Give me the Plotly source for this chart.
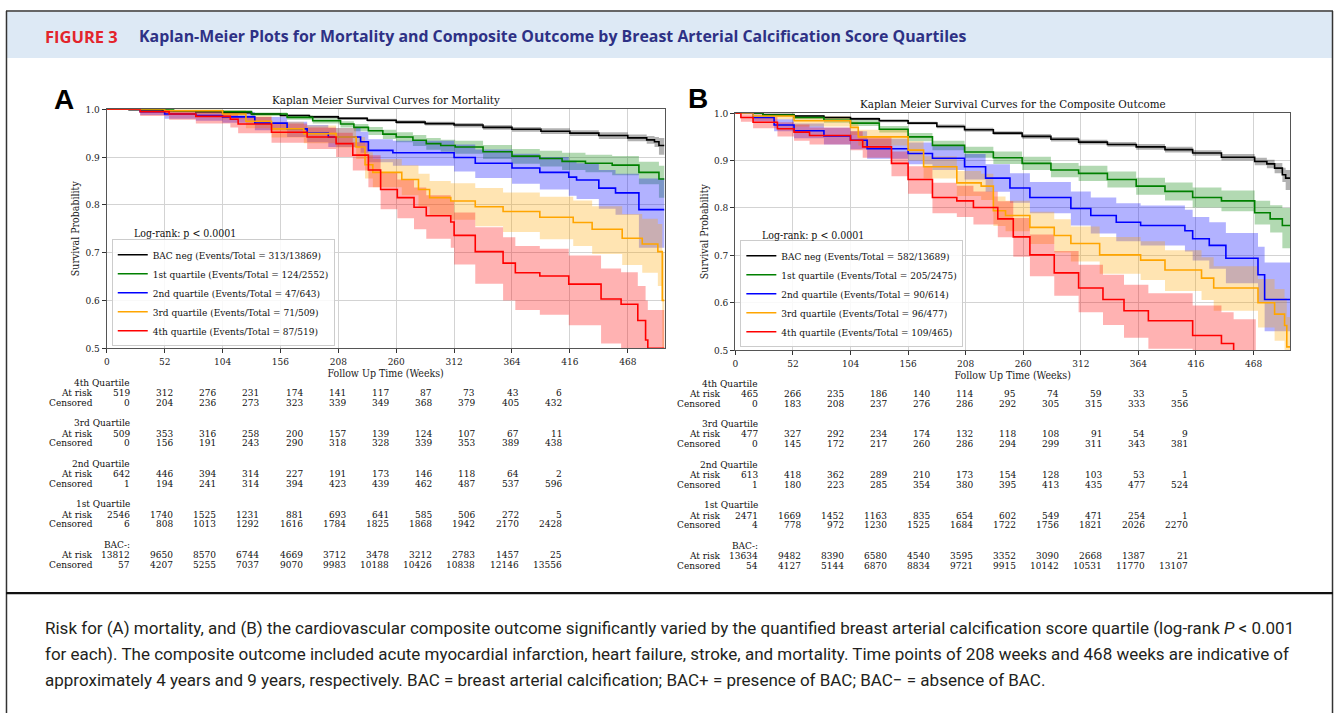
import plotly.graph_objects as go

W, H = 1336, 719

# ---------------- Panel A: mortality (weeks, survival, CI low, CI high) ----------------
tA_neg = [0, 20, 50, 80, 104, 130, 156, 182, 208, 234, 260, 286, 312, 338, 364, 390, 416, 442, 468, 485, 492, 496, 501]
sA_neg = [1.0, 0.999, 0.997, 0.995, 0.993, 0.990, 0.987, 0.984, 0.981, 0.977, 0.973, 0.970, 0.967, 0.962, 0.958, 0.954, 0.950, 0.945, 0.940, 0.936, 0.932, 0.924, 0.924]
lA_neg = [1.0, 0.998, 0.996, 0.994, 0.991, 0.988, 0.985, 0.981, 0.978, 0.974, 0.969, 0.966, 0.962, 0.957, 0.953, 0.948, 0.944, 0.938, 0.933, 0.928, 0.921, 0.905, 0.905]
hA_neg = [1.0, 1.0, 0.998, 0.996, 0.995, 0.992, 0.989, 0.987, 0.984, 0.980, 0.977, 0.974, 0.971, 0.967, 0.963, 0.960, 0.956, 0.952, 0.947, 0.944, 0.942, 0.940, 0.940]

tA_q1 = [0, 30, 60, 104, 130, 162, 185, 210, 222, 235, 248, 260, 275, 287, 300, 313, 338, 364, 389, 409, 430, 454, 478, 496, 501]
sA_q1 = [1.0, 0.999, 0.997, 0.995, 0.990, 0.983, 0.976, 0.969, 0.962, 0.955, 0.948, 0.942, 0.935, 0.928, 0.924, 0.921, 0.911, 0.902, 0.897, 0.891, 0.887, 0.883, 0.868, 0.854, 0.854]
lA_q1 = [1.0, 0.998, 0.995, 0.992, 0.986, 0.978, 0.970, 0.962, 0.954, 0.946, 0.938, 0.931, 0.923, 0.915, 0.911, 0.907, 0.896, 0.886, 0.880, 0.873, 0.868, 0.862, 0.843, 0.815, 0.815]
hA_q1 = [1.0, 1.0, 0.999, 0.997, 0.993, 0.987, 0.981, 0.975, 0.969, 0.963, 0.957, 0.952, 0.946, 0.940, 0.936, 0.934, 0.925, 0.917, 0.913, 0.909, 0.905, 0.902, 0.890, 0.882, 0.882]

tA_q2 = [0, 30, 52, 80, 104, 133, 162, 180, 199, 228, 235, 257, 312, 331, 364, 389, 415, 422, 442, 457, 478, 501]
sA_q2 = [1.0, 0.995, 0.990, 0.987, 0.984, 0.971, 0.959, 0.950, 0.942, 0.932, 0.914, 0.909, 0.899, 0.887, 0.877, 0.868, 0.858, 0.852, 0.835, 0.825, 0.790, 0.790]
lA_q2 = [1.0, 0.988, 0.980, 0.976, 0.972, 0.956, 0.942, 0.931, 0.921, 0.909, 0.889, 0.882, 0.870, 0.856, 0.844, 0.832, 0.819, 0.812, 0.792, 0.779, 0.710, 0.710]
hA_q2 = [1.0, 1.0, 0.998, 0.996, 0.994, 0.984, 0.974, 0.967, 0.961, 0.953, 0.937, 0.934, 0.926, 0.916, 0.907, 0.900, 0.892, 0.887, 0.873, 0.865, 0.855, 0.855]

tA_q3 = [0, 52, 104, 125, 148, 177, 206, 224, 232, 239, 265, 280, 290, 309, 331, 356, 389, 419, 436, 463, 481, 495, 499, 501]
sA_q3 = [1.0, 0.997, 0.990, 0.975, 0.959, 0.949, 0.942, 0.921, 0.884, 0.868, 0.853, 0.832, 0.815, 0.808, 0.796, 0.786, 0.774, 0.763, 0.749, 0.730, 0.718, 0.702, 0.600, 0.600]
lA_q3 = [1.0, 0.990, 0.979, 0.960, 0.941, 0.929, 0.920, 0.896, 0.855, 0.837, 0.820, 0.796, 0.777, 0.769, 0.755, 0.743, 0.728, 0.714, 0.697, 0.674, 0.658, 0.630, 0.450, 0.450]
hA_q3 = [1.0, 1.0, 0.998, 0.987, 0.974, 0.966, 0.961, 0.942, 0.910, 0.896, 0.883, 0.865, 0.850, 0.845, 0.835, 0.826, 0.817, 0.809, 0.797, 0.781, 0.771, 0.760, 0.700, 0.700]

tA_q4 = [0, 30, 56, 80, 111, 118, 148, 180, 206, 221, 235, 246, 261, 276, 287, 309, 312, 331, 356, 367, 389, 415, 444, 462, 477, 484, 486, 501]
sA_q4 = [1.0, 0.995, 0.990, 0.985, 0.979, 0.969, 0.952, 0.942, 0.928, 0.904, 0.873, 0.832, 0.815, 0.795, 0.777, 0.764, 0.736, 0.702, 0.678, 0.658, 0.651, 0.634, 0.603, 0.592, 0.558, 0.517, 0.500, 0.500]
lA_q4 = [1.0, 0.986, 0.978, 0.970, 0.962, 0.950, 0.930, 0.917, 0.900, 0.872, 0.837, 0.791, 0.772, 0.749, 0.729, 0.710, 0.675, 0.635, 0.600, 0.580, 0.570, 0.548, 0.510, 0.495, 0.455, 0.410, 0.380, 0.380]
hA_q4 = [1.0, 1.0, 0.998, 0.995, 0.991, 0.984, 0.970, 0.962, 0.951, 0.931, 0.904, 0.868, 0.853, 0.836, 0.820, 0.809, 0.784, 0.753, 0.732, 0.714, 0.708, 0.694, 0.667, 0.659, 0.630, 0.600, 0.580, 0.580]

# ---------------- Panel B: composite outcome ----------------
tB_neg = [0, 25, 53, 80, 104, 130, 156, 182, 207, 233, 259, 285, 310, 336, 362, 388, 413, 439, 469, 480, 487, 494, 497, 501]
sB_neg = [1.0, 0.997, 0.994, 0.991, 0.988, 0.984, 0.979, 0.972, 0.965, 0.958, 0.951, 0.945, 0.939, 0.934, 0.929, 0.923, 0.916, 0.907, 0.898, 0.893, 0.884, 0.870, 0.863, 0.863]
lB_neg = [1.0, 0.996, 0.992, 0.989, 0.985, 0.981, 0.976, 0.968, 0.961, 0.954, 0.946, 0.940, 0.934, 0.929, 0.923, 0.917, 0.910, 0.900, 0.890, 0.884, 0.873, 0.855, 0.838, 0.838]
hB_neg = [1.0, 0.998, 0.996, 0.993, 0.991, 0.987, 0.982, 0.976, 0.969, 0.962, 0.956, 0.950, 0.944, 0.939, 0.935, 0.929, 0.922, 0.914, 0.906, 0.902, 0.895, 0.885, 0.880, 0.880]

tB_q1 = [0, 25, 53, 80, 104, 130, 156, 178, 207, 233, 259, 285, 310, 336, 362, 388, 413, 439, 469, 483, 494, 501]
sB_q1 = [1.0, 0.996, 0.991, 0.985, 0.979, 0.966, 0.950, 0.932, 0.918, 0.906, 0.894, 0.880, 0.873, 0.860, 0.846, 0.835, 0.822, 0.815, 0.790, 0.777, 0.763, 0.763]
lB_q1 = [1.0, 0.993, 0.987, 0.980, 0.973, 0.959, 0.941, 0.922, 0.906, 0.893, 0.880, 0.865, 0.857, 0.843, 0.828, 0.816, 0.801, 0.793, 0.765, 0.748, 0.715, 0.700]
hB_q1 = [1.0, 0.999, 0.995, 0.990, 0.985, 0.973, 0.958, 0.942, 0.929, 0.919, 0.908, 0.895, 0.889, 0.877, 0.864, 0.854, 0.843, 0.837, 0.815, 0.806, 0.800, 0.800]

tB_q2 = [0, 16, 35, 53, 80, 104, 119, 156, 178, 207, 226, 248, 266, 303, 321, 344, 366, 406, 413, 428, 443, 472, 478, 501]
sB_q2 = [1.0, 0.991, 0.975, 0.963, 0.952, 0.943, 0.925, 0.915, 0.905, 0.887, 0.863, 0.842, 0.822, 0.799, 0.784, 0.770, 0.763, 0.752, 0.735, 0.721, 0.694, 0.659, 0.607, 0.607]
lB_q2 = [1.0, 0.983, 0.962, 0.947, 0.934, 0.924, 0.904, 0.892, 0.880, 0.860, 0.834, 0.811, 0.789, 0.763, 0.746, 0.730, 0.721, 0.708, 0.689, 0.672, 0.641, 0.600, 0.540, 0.540]
hB_q2 = [1.0, 0.998, 0.987, 0.978, 0.969, 0.962, 0.946, 0.938, 0.930, 0.914, 0.892, 0.873, 0.855, 0.835, 0.822, 0.810, 0.805, 0.796, 0.781, 0.770, 0.747, 0.718, 0.685, 0.685]

tB_q3 = [0, 16, 53, 104, 111, 156, 170, 200, 222, 233, 244, 266, 288, 303, 329, 366, 388, 421, 432, 472, 487, 496, 498, 501]
sB_q3 = [1.0, 0.994, 0.984, 0.970, 0.950, 0.922, 0.887, 0.853, 0.846, 0.794, 0.784, 0.759, 0.742, 0.725, 0.701, 0.690, 0.669, 0.652, 0.631, 0.600, 0.576, 0.552, 0.507, 0.507]
lB_q3 = [1.0, 0.987, 0.972, 0.954, 0.932, 0.900, 0.862, 0.825, 0.817, 0.762, 0.751, 0.724, 0.706, 0.687, 0.661, 0.648, 0.625, 0.606, 0.583, 0.548, 0.520, 0.490, 0.440, 0.440]
hB_q3 = [1.0, 0.999, 0.993, 0.982, 0.965, 0.941, 0.909, 0.878, 0.872, 0.824, 0.815, 0.792, 0.776, 0.761, 0.739, 0.730, 0.711, 0.696, 0.677, 0.650, 0.629, 0.610, 0.570, 0.570]

tB_q4 = [0, 5, 16, 38, 53, 67, 104, 115, 141, 156, 178, 200, 215, 237, 251, 266, 288, 310, 332, 351, 373, 413, 439, 450, 470]
sB_q4 = [1.0, 0.991, 0.981, 0.967, 0.960, 0.953, 0.943, 0.929, 0.894, 0.860, 0.822, 0.815, 0.801, 0.777, 0.739, 0.701, 0.663, 0.631, 0.607, 0.583, 0.562, 0.531, 0.514, 0.495, 0.480]
lB_q4 = [1.0, 0.982, 0.968, 0.951, 0.942, 0.934, 0.922, 0.906, 0.867, 0.830, 0.789, 0.781, 0.765, 0.738, 0.697, 0.656, 0.615, 0.580, 0.553, 0.526, 0.503, 0.468, 0.448, 0.425, 0.410]
hB_q4 = [1.0, 0.998, 0.992, 0.981, 0.976, 0.970, 0.962, 0.950, 0.919, 0.888, 0.853, 0.847, 0.835, 0.814, 0.779, 0.744, 0.709, 0.680, 0.659, 0.638, 0.620, 0.594, 0.580, 0.565, 0.540]

# legend labels
labels_A = ["BAC neg (Events/Total = 313/13869)", "1st quartile (Events/Total = 124/2552)",
            "2nd quartile (Events/Total = 47/643)", "3rd quartile (Events/Total = 71/509)",
            "4th quartile (Events/Total = 87/519)"]
labels_B = ["BAC neg (Events/Total = 582/13689)", "1st quartile (Events/Total = 205/2475)",
            "2nd quartile (Events/Total = 90/614)", "3rd quartile (Events/Total = 96/477)",
            "4th quartile (Events/Total = 109/465)"]

# ---------------- number-at-risk tables ----------------
table_weeks = [0, 52, 104, 156, 208, 260, 312, 364, 416, 468, 520]
table_groups = ["4th Quartile", "3rd Quartile", "2nd Quartile", "1st Quartile", "BAC-:"]

A_risk_q4 = [519, 312, 276, 231, 174, 141, 117, 87, 73, 43, 6]
A_cens_q4 = [0, 204, 236, 273, 323, 339, 349, 368, 379, 405, 432]
A_risk_q3 = [509, 353, 316, 258, 200, 157, 139, 124, 107, 67, 11]
A_cens_q3 = [0, 156, 191, 243, 290, 318, 328, 339, 353, 389, 438]
A_risk_q2 = [642, 446, 394, 314, 227, 191, 173, 146, 118, 64, 2]
A_cens_q2 = [1, 194, 241, 314, 394, 423, 439, 462, 487, 537, 596]
A_risk_q1 = [2546, 1740, 1525, 1231, 881, 693, 641, 585, 506, 272, 5]
A_cens_q1 = [6, 808, 1013, 1292, 1616, 1784, 1825, 1868, 1942, 2170, 2428]
A_risk_neg = [13812, 9650, 8570, 6744, 4669, 3712, 3478, 3212, 2783, 1457, 25]
A_cens_neg = [57, 4207, 5255, 7037, 9070, 9983, 10188, 10426, 10838, 12146, 13556]

B_risk_q4 = [465, 266, 235, 186, 140, 114, 95, 74, 59, 33, 5]
B_cens_q4 = [0, 183, 208, 237, 276, 286, 292, 305, 315, 333, 356]
B_risk_q3 = [477, 327, 292, 234, 174, 132, 118, 108, 91, 54, 9]
B_cens_q3 = [0, 145, 172, 217, 260, 286, 294, 299, 311, 343, 381]
B_risk_q2 = [613, 418, 362, 289, 210, 173, 154, 128, 103, 53, 1]
B_cens_q2 = [1, 180, 223, 285, 354, 380, 395, 413, 435, 477, 524]
B_risk_q1 = [2471, 1669, 1452, 1163, 835, 654, 602, 549, 471, 254, 1]
B_cens_q1 = [4, 778, 972, 1230, 1525, 1684, 1722, 1756, 1821, 2026, 2270]
B_risk_neg = [13634, 9482, 8390, 6580, 4540, 3595, 3352, 3090, 2668, 1387, 21]
B_cens_neg = [54, 4127, 5144, 6870, 8834, 9721, 9915, 10142, 10531, 11770, 13107]

x_ticks = [0, 52, 104, 156, 208, 260, 312, 364, 416, 468]
y_ticks = [0.5, 0.6, 0.7, 0.8, 0.9, 1.0]

# ---------------- styling ----------------
SERIF = "DejaVu Serif Condensed, DejaVu Serif, serif"
line_colors = ["#000000", "#008000", "#0000ff", "#ffa500", "#ff0000"]
fill_colors = ["rgba(0,0,0,0.3)", "rgba(0,128,0,0.3)", "rgba(0,0,255,0.3)",
               "rgba(255,165,0,0.3)", "rgba(255,0,0,0.3)"]


def px(x):
    return x / W


def py(y):
    return 1 - y / H


fig = go.Figure()

panels = [
    dict(xa="x", ya="y", legend="legend", labels=labels_A,
         curves=[(tA_neg, sA_neg, lA_neg, hA_neg), (tA_q1, sA_q1, lA_q1, hA_q1),
                 (tA_q2, sA_q2, lA_q2, hA_q2), (tA_q3, sA_q3, lA_q3, hA_q3),
                 (tA_q4, sA_q4, lA_q4, hA_q4)]),
    dict(xa="x2", ya="y2", legend="legend2", labels=labels_B,
         curves=[(tB_neg, sB_neg, lB_neg, hB_neg), (tB_q1, sB_q1, lB_q1, hB_q1),
                 (tB_q2, sB_q2, lB_q2, hB_q2), (tB_q3, sB_q3, lB_q3, hB_q3),
                 (tB_q4, sB_q4, lB_q4, hB_q4)]),
]

for p in panels:
    for i, (t, s, lo, hi) in enumerate(p["curves"]):
        fig.add_trace(go.Scatter(x=t, y=lo, mode="lines", line=dict(width=0, shape="hv"),
                                 showlegend=False, hoverinfo="skip", xaxis=p["xa"], yaxis=p["ya"]))
        fig.add_trace(go.Scatter(x=t, y=hi, mode="lines", line=dict(width=0, shape="hv"),
                                 fill="tonexty", fillcolor=fill_colors[i],
                                 showlegend=False, hoverinfo="skip", xaxis=p["xa"], yaxis=p["ya"]))
    for i, (t, s, lo, hi) in enumerate(p["curves"]):
        fig.add_trace(go.Scatter(x=t, y=s, mode="lines", name=p["labels"][i],
                                 line=dict(color=line_colors[i], width=1.6, shape="hv"),
                                 xaxis=p["xa"], yaxis=p["ya"], legend=p["legend"]))

# invisible axes that carry the at-risk table columns
fig.add_trace(go.Scatter(x=[], y=[], xaxis="x3", yaxis="y3", showlegend=False, hoverinfo="skip"))
fig.add_trace(go.Scatter(x=[], y=[], xaxis="x4", yaxis="y4", showlegend=False, hoverinfo="skip"))

axis_common = dict(showgrid=True, gridcolor="#d3d3d3", gridwidth=1, zeroline=False,
                   showline=True, mirror=True, linecolor="#555555", linewidth=1,
                   ticks="outside", ticklen=4, tickcolor="#333333",
                   tickfont=dict(family=SERIF, size=10, color="#222222"))
title_font = dict(family=SERIF, size=10.5, color="#222")
legend_common = dict(bgcolor="rgba(255,255,255,0.85)", bordercolor="#cccccc", borderwidth=1,
                     traceorder="normal", font=dict(family=SERIF, size=10, color="#111"))

fig.update_layout(
    width=W, height=H, autosize=False,
    margin=dict(l=0, r=0, t=0, b=0),
    paper_bgcolor="white", plot_bgcolor="white",
    xaxis=dict(domain=[px(104), px(663)], range=[0, 501], tickvals=x_ticks, anchor="y",
               title=dict(text="Follow Up Time (Weeks)", font=title_font, standoff=2), **axis_common),
    yaxis=dict(domain=[py(348), py(105)], range=[0.5, 1.0], tickvals=y_ticks, tickformat=".1f", anchor="x",
               title=dict(text="Survival Probability", font=title_font, standoff=3), **axis_common),
    xaxis2=dict(domain=[px(734), px(1290)], range=[0, 501], tickvals=x_ticks, anchor="y2",
                title=dict(text="Follow Up Time (Weeks)", font=title_font, standoff=2), **axis_common),
    yaxis2=dict(domain=[py(350), py(109)], range=[0.5, 1.0], tickvals=y_ticks, tickformat=".1f", anchor="x2",
                title=dict(text="Survival Probability", font=title_font, standoff=3), **axis_common),
    xaxis3=dict(domain=[px(129), px(562)], range=[0, 520], visible=False, anchor="y3", fixedrange=True),
    yaxis3=dict(domain=[0, 0.02], range=[0, 1], visible=False, anchor="x3", fixedrange=True),
    xaxis4=dict(domain=[px(759), px(1190)], range=[0, 520], visible=False, anchor="y4", fixedrange=True),
    yaxis4=dict(domain=[0, 0.02], range=[0, 1], visible=False, anchor="x4", fixedrange=True),
    legend=dict(x=px(109), xanchor="left", y=py(346), yanchor="bottom", **legend_common),
    legend2=dict(x=px(739), xanchor="left", y=py(347), yanchor="bottom", **legend_common),
    showlegend=True,
)

ann = []
shapes = []

# frame, header band, separator
shapes.append(dict(type="rect", xref="paper", yref="paper", x0=px(4), x1=px(1332), y0=py(53), y1=py(6),
                   fillcolor="#dde9f5", line=dict(width=0), layer="below"))
shapes.append(dict(type="line", xref="paper", yref="paper", x0=px(3), x1=px(1333), y0=py(5), y1=py(5),
                   line=dict(color="#333333", width=1.5)))
shapes.append(dict(type="line", xref="paper", yref="paper", x0=px(3.5), x1=px(3.5), y0=py(5), y1=0,
                   line=dict(color="#333333", width=1.5)))
shapes.append(dict(type="line", xref="paper", yref="paper", x0=px(1332.5), x1=px(1332.5), y0=py(5), y1=0,
                   line=dict(color="#333333", width=1.5)))
shapes.append(dict(type="line", xref="paper", yref="paper", x0=px(3), x1=px(1333), y0=py(597), y1=py(597),
                   line=dict(color="#111111", width=2.2)))

HEAD = "Open Sans, Roboto, sans-serif"
ann.append(dict(text="<b>FIGURE 3</b>", xref="paper", yref="paper", x=px(40), y=py(31), xanchor="left",
                yanchor="middle", showarrow=False, font=dict(family=HEAD, size=16.5, color="#e3242b")))
ann.append(dict(text="<b>Kaplan-Meier Plots for Mortality and Composite Outcome by Breast Arterial Calcification Score Quartiles</b>",
                xref="paper", yref="paper", x=px(134), y=py(31), xanchor="left", yanchor="middle", showarrow=False,
                font=dict(family=HEAD, size=15.9, color="#2e3185")))

# panel letters and titles
ann.append(dict(text="<b>A</b>", xref="paper", yref="paper", x=px(61), y=py(95), xanchor="center", yanchor="middle",
                showarrow=False, font=dict(family="Liberation Sans, Arial, sans-serif", size=28, color="#000")))
ann.append(dict(text="<b>B</b>", xref="paper", yref="paper", x=px(697), y=py(94), xanchor="center", yanchor="middle",
                showarrow=False, font=dict(family="Liberation Sans, Arial, sans-serif", size=28, color="#000")))
ann.append(dict(text="Kaplan Meier Survival Curves for Mortality", xref="paper", yref="paper",
                x=px(383.5), y=py(96), xanchor="center", yanchor="middle", showarrow=False,
                font=dict(family=SERIF, size=11.5, color="#111")))
ann.append(dict(text="Kaplan Meier Survival Curves for the Composite Outcome", xref="paper", yref="paper",
                x=px(1012), y=py(100), xanchor="center", yanchor="middle", showarrow=False,
                font=dict(family=SERIF, size=11.5, color="#111")))

# log-rank labels
ann.append(dict(text="Log-rank: p &lt; 0.0001", xref="x", yref="y", x=23, y=0.742, xanchor="left",
                yanchor="middle", showarrow=False, font=dict(family=SERIF, size=10.5, color="#111")))
ann.append(dict(text="Log-rank: p &lt; 0.0001", xref="x2", yref="y2", x=22.5, y=0.744, xanchor="left",
                yanchor="middle", showarrow=False, font=dict(family=SERIF, size=10.5, color="#111")))

# at-risk tables
tables = [
    dict(xref="x3", label_x=92, dy=0,
         rows=[(A_risk_q4, A_cens_q4), (A_risk_q3, A_cens_q3), (A_risk_q2, A_cens_q2),
               (A_risk_q1, A_cens_q1), (A_risk_neg, A_cens_neg)]),
    dict(xref="x4", label_x=722, dy=1,
         rows=[(B_risk_q4, B_cens_q4), (B_risk_q3, B_cens_q3), (B_risk_q2, B_cens_q2),
               (B_risk_q1, B_cens_q1), (B_risk_neg, B_cens_neg)]),
]
TF = dict(family=SERIF, size=10, color="#111")
for tb in tables:
    for gi, (risk, cens) in enumerate(tb["rows"]):
        y_r = 393 + 41.25 * gi + tb["dy"]
        ann.append(dict(text=table_groups[gi], xref=tb["xref"], yref="paper", x=0, y=py(y_r - 10.3),
                        xanchor="right", yanchor="middle", showarrow=False, font=TF))
        ann.append(dict(text="At risk", xref="paper", yref="paper", x=px(tb["label_x"]), y=py(y_r),
                        xanchor="right", yanchor="middle", showarrow=False, font=TF))
        ann.append(dict(text="Censored", xref="paper", yref="paper", x=px(tb["label_x"]), y=py(y_r + 10),
                        xanchor="right", yanchor="middle", showarrow=False, font=TF))
        for k, wk in enumerate(table_weeks):
            ann.append(dict(text=str(risk[k]), xref=tb["xref"], yref="paper", x=wk, y=py(y_r),
                            xanchor="right", yanchor="middle", showarrow=False, font=TF))
            ann.append(dict(text=str(cens[k]), xref=tb["xref"], yref="paper", x=wk, y=py(y_r + 10),
                            xanchor="right", yanchor="middle", showarrow=False, font=TF))

# caption
caption = [
    "Risk for (A) mortality, and (B) the cardiovascular composite outcome significantly varied by the quantified breast arterial calcification score quartile (log-rank <i>P</i> &lt; 0.001",
    "for each). The composite outcome included acute myocardial infarction, heart failure, stroke, and mortality. Time points of 208 weeks and 468 weeks are indicative of",
    "approximately 4 years and 9 years, respectively. BAC = breast arterial calcification; BAC+ = presence of BAC; BAC\u2212 = absence of BAC.",
]
for i, line in enumerate(caption):
    ann.append(dict(text=line, xref="paper", yref="paper", x=px(40), y=py(633 + 26 * i), xanchor="left",
                    yanchor="middle", showarrow=False, font=dict(family="Roboto, sans-serif", size=17, color="#231f20")))

fig.update_layout(annotations=ann, shapes=shapes)

fig.write_html("out.html", config={"displayModeBar": False},
               post_script="document.body.style.margin='0';document.body.style.overflow='hidden';")
